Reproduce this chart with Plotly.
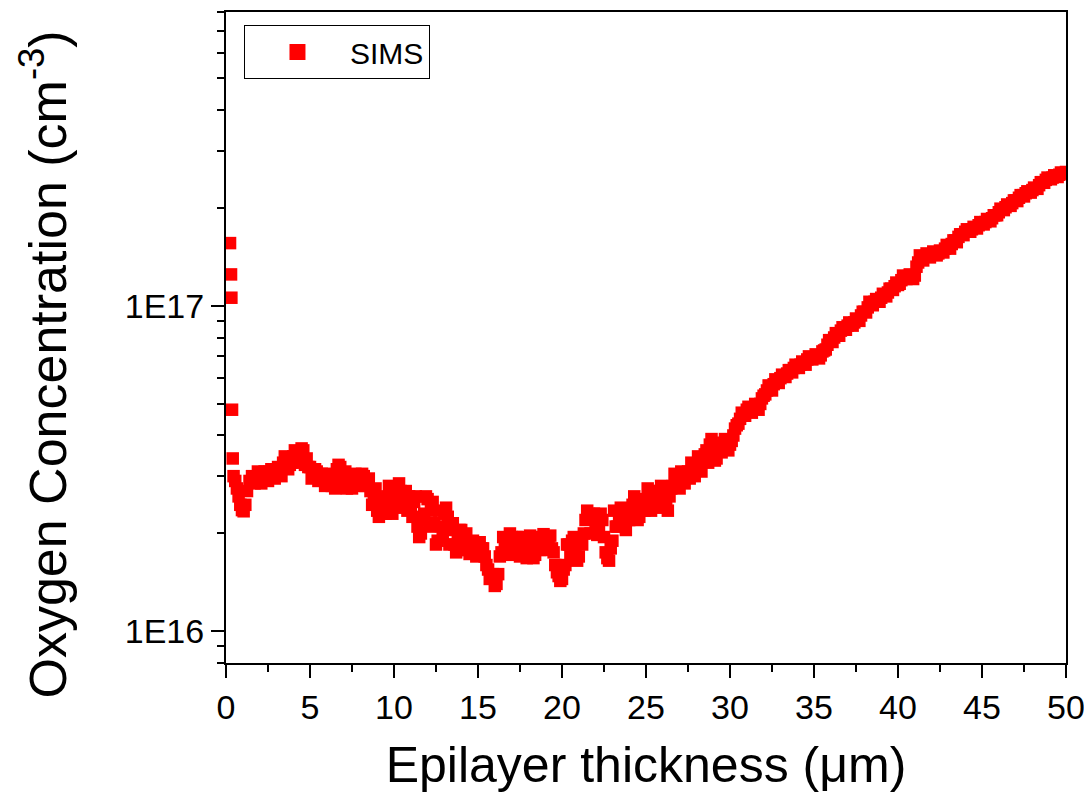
import plotly.graph_objects as go

# SIMS oxygen depth profile (depth in micrometres, concentration in units of 1E16 cm^-3)
# in two interleaved passes
depth_um_a = [
    0.24, 0.30, 0.32, 0.36, 0.40,
    0.45, 0.55, 0.65, 0.75, 0.85, 0.95, 1.05, 1.15, 1.25, 1.4, 1.55, 1.7, 1.85,
    2.0, 2.2, 2.4, 2.6, 2.8, 3.0, 3.2, 3.4, 3.6, 3.8, 4.0, 4.2, 4.4, 4.6, 4.8,
    5.0, 5.2, 5.4, 5.6, 5.8, 6.0, 6.2, 6.4, 6.6, 6.8, 7.0, 7.2, 7.4, 7.6, 7.8,
    8.0, 8.2, 8.4, 8.6, 8.8, 9.0, 9.2, 9.4, 9.6, 9.8, 10.0, 10.2, 10.4, 10.6, 10.8,
    11.0, 11.2, 11.4, 11.6, 11.8, 12.0, 12.2, 12.4, 12.6, 12.8, 13.0, 13.2, 13.4, 13.6, 13.8,
    14.0, 14.2, 14.4, 14.6, 14.8, 15.0, 15.2, 15.4, 15.6, 15.8, 16.0, 16.2, 16.4, 16.6, 16.8,
    17.0, 17.2, 17.4, 17.6, 17.8, 18.0, 18.2, 18.4, 18.6, 18.8, 19.0, 19.2, 19.4, 19.6, 19.8,
    20.0, 20.2, 20.4, 20.6, 20.8, 21.0, 21.2, 21.4, 21.6, 21.8, 22.0, 22.2, 22.4, 22.6, 22.8,
    23.0, 23.2, 23.4, 23.6, 23.8, 24.0, 24.2, 24.4, 24.6, 24.8, 25.0, 25.2, 25.4, 25.6, 25.8,
    26.0, 26.2, 26.4, 26.6, 26.8, 27.0, 27.2, 27.4, 27.6, 27.8, 28.0, 28.2, 28.4, 28.6, 28.8,
    29.0, 29.2, 29.4, 29.6, 29.8, 30.0, 30.2, 30.4, 30.6, 30.8, 31.0, 31.2, 31.4, 31.6, 31.8,
    32.0, 32.2, 32.4, 32.6, 32.8, 33.0, 33.2, 33.4, 33.6, 33.8, 34.0, 34.2, 34.4, 34.6, 34.8,
    35.0, 35.2, 35.4, 35.6, 35.8, 36.0, 36.2, 36.4, 36.6, 36.8, 37.0, 37.2, 37.4, 37.6, 37.8,
    38.0, 38.2, 38.4, 38.6, 38.8, 39.0, 39.2, 39.4, 39.6, 39.8, 40.0, 40.2, 40.4, 40.6, 40.8,
    41.0, 41.2, 41.4, 41.6, 41.8, 42.0, 42.2, 42.4, 42.6, 42.8, 43.0, 43.2, 43.4, 43.6, 43.8,
    44.0, 44.2, 44.4, 44.6, 44.8, 45.0, 45.2, 45.4, 45.6, 45.8, 46.0, 46.2, 46.4, 46.6, 46.8,
    47.0, 47.2, 47.4, 47.6, 47.8, 48.0, 48.2, 48.4, 48.6, 48.8, 49.0, 49.2, 49.4, 49.6, 49.8,
    50.0,
]

oxygen_e16_a = [
    15.6, 12.5, 10.6, 4.8, 3.4,
    3.0, 2.9, 2.75, 2.6, 2.45, 2.36, 2.34, 2.45, 2.7, 2.9, 3.0, 2.85, 2.9,
    3.0, 2.95, 3.05, 3.1, 3.0, 3.05, 3.1, 3.3, 3.4, 3.25, 3.45, 3.55, 3.5, 3.6, 3.4,
    3.2, 3.05, 3.1, 2.95, 3.0, 2.85, 2.95, 2.9, 3.15, 3.2, 3.0, 2.75, 2.85, 2.95, 3.0,
    2.9, 3.0, 2.85, 2.7, 2.6, 2.35, 2.3, 2.5, 2.6, 2.5, 2.45, 2.6, 2.7, 2.55, 2.35,
    2.4, 2.5, 2.1, 2.0, 2.3, 2.55, 2.35, 2.15, 1.9, 2.1, 2.3, 2.25, 2.05, 1.85, 1.95,
    2.05, 1.9, 1.78, 1.85, 1.82, 1.75, 1.8, 1.7, 1.55, 1.48, 1.38, 1.5, 1.75, 1.85, 1.9,
    1.95, 1.8, 1.88, 1.9, 1.75, 1.82, 1.9, 1.72, 1.8, 1.95, 1.85, 1.9, 1.8, 1.6, 1.48,
    1.45, 1.6, 1.85, 1.9, 1.75, 1.7, 1.85, 2.2, 2.3, 2.25, 2.15, 2.1, 2.2, 1.75, 1.65,
    1.9, 2.1, 2.25, 2.2, 2.05, 2.2, 2.45, 2.3, 2.25, 2.4, 2.5, 2.6, 2.45, 2.55, 2.7,
    2.65, 2.45, 2.6, 2.8, 2.9, 2.75, 2.95, 3.05, 2.95, 3.1, 3.25, 3.15, 3.35, 3.6, 3.75,
    3.55, 3.4, 3.7, 3.8, 3.65, 3.75, 4.0, 4.3, 4.5, 4.6, 4.8, 4.75, 4.85, 4.95, 5.0,
    5.3, 5.5, 5.55, 5.75, 5.9, 6.0, 6.1, 6.2, 6.35, 6.45, 6.55, 6.6, 6.7, 6.85, 6.9,
    6.95, 7.0, 7.05, 7.3, 7.6, 7.85, 8.0, 8.2, 8.4, 8.5, 8.7, 8.85, 8.9, 9.1, 9.35,
    9.6, 9.9, 10.2, 10.3, 10.4, 10.6, 10.8, 11.0, 11.3, 11.5, 11.6, 12.0, 12.3, 12.35, 12.3,
    12.4, 13.6, 14.1, 14.2, 14.3, 14.4, 14.5, 14.5, 14.7, 15.0, 15.2, 15.5, 15.9, 16.3, 16.6,
    16.9, 17.1, 17.2, 17.4, 17.7, 18.0, 18.1, 18.3, 18.6, 19.0, 19.4, 19.8, 20.1, 20.4, 20.7,
    21.1, 21.5, 21.9, 22.2, 22.4, 22.7, 23.0, 23.5, 24.0, 24.4, 24.6, 24.8, 25.1, 25.3, 25.6,
    25.8,
]

depth_um_b = [
    1.9, 2.1, 2.3, 2.5, 2.7, 2.9, 3.1, 3.3, 3.5, 3.7, 3.9, 4.1, 4.3, 4.5, 4.7, 4.9,
    5.1, 5.3, 5.5, 5.7, 5.9, 6.1, 6.3, 6.5, 6.7, 6.9, 7.1, 7.3, 7.5, 7.7, 7.9,
    8.1, 8.3, 8.5, 8.7, 8.9, 9.1, 9.3, 9.5, 9.7, 9.9, 10.1, 10.3, 10.5, 10.7, 10.9,
    11.1, 11.3, 11.5, 11.7, 11.9, 12.1, 12.3, 12.5, 12.7, 12.9, 13.1, 13.3, 13.5, 13.7, 13.9,
    14.1, 14.3, 14.5, 14.7, 14.9, 15.1, 15.3, 15.5, 15.7, 15.9, 16.1, 16.3, 16.5, 16.7, 16.9,
    17.1, 17.3, 17.5, 17.7, 17.9, 18.1, 18.3, 18.5, 18.7, 18.9, 19.1, 19.3, 19.5, 19.7, 19.9,
    20.1, 20.3, 20.5, 20.7, 20.9, 21.1, 21.3, 21.5, 21.7, 21.9, 22.1, 22.3, 22.5, 22.7, 22.9,
    23.1, 23.3, 23.5, 23.7, 23.9, 24.1, 24.3, 24.5, 24.7, 24.9, 25.1, 25.3, 25.5, 25.7, 25.9,
    26.1, 26.3, 26.5, 26.7, 26.9, 27.1, 27.3, 27.5, 27.7, 27.9, 28.1, 28.3, 28.5, 28.7, 28.9,
    29.1, 29.3, 29.5, 29.7, 29.9, 30.1, 30.3, 30.5, 30.7, 30.9, 31.1, 31.3, 31.5, 31.7, 31.9,
    32.1, 32.3, 32.5, 32.7, 32.9, 33.1, 33.3, 33.5, 33.7, 33.9, 34.1, 34.3, 34.5, 34.7, 34.9,
    35.1, 35.3, 35.5, 35.7, 35.9, 36.1, 36.3, 36.5, 36.7, 36.9, 37.1, 37.3, 37.5, 37.7, 37.9,
    38.1, 38.3, 38.5, 38.7, 38.9, 39.1, 39.3, 39.5, 39.7, 39.9, 40.1, 40.3, 40.5, 40.7, 40.9,
    41.1, 41.3, 41.5, 41.7, 41.9, 42.1, 42.3, 42.5, 42.7, 42.9, 43.1, 43.3, 43.5, 43.7, 43.9,
    44.1, 44.3, 44.5, 44.7, 44.9, 45.1, 45.3, 45.5, 45.7, 45.9, 46.1, 46.3, 46.5, 46.7, 46.9,
    47.1, 47.3, 47.5, 47.7, 47.9, 48.1, 48.3, 48.5, 48.7, 48.9, 49.1, 49.3, 49.5, 49.7, 49.9,
]

oxygen_e16_b = [
    3.1, 2.85, 3.1, 2.9, 3.15, 2.95, 3.2, 3.0, 3.45, 3.15, 3.3, 3.6, 3.3, 3.65, 3.25, 3.2,
    2.95, 3.15, 2.9, 3.05, 2.8, 3.05, 2.8, 2.75, 3.25, 2.8, 3.1, 2.95, 2.75, 3.05, 2.8,
    3.05, 2.8, 2.95, 2.45, 2.75, 2.25, 2.55, 2.3, 2.8, 2.3, 2.5, 2.85, 2.4, 2.7, 2.6,
    2.25, 2.6, 1.95, 2.2, 2.6, 2.1, 2.5, 1.85, 2.35, 1.95, 2.4, 1.85, 2.15, 1.75, 2.05,
    1.78, 2.0, 1.73, 1.9, 1.7, 1.88, 1.8, 1.6, 1.45, 1.5, 1.4, 1.7, 1.95, 1.72, 2.0,
    1.72, 1.95, 1.7, 1.95, 1.68, 1.97, 1.68, 1.92, 1.78, 1.99, 1.78, 1.97, 1.75, 1.52, 1.43,
    1.55, 1.85, 1.7, 1.95, 1.65, 1.92, 2.0, 2.35, 2.0, 2.3, 1.98, 2.3, 1.95, 1.68, 1.8,
    2.35, 2.1, 2.4, 2.12, 2.3, 2.25, 2.6, 2.2, 2.55, 2.35, 2.75, 2.35, 2.7, 2.4, 2.8,
    2.55, 2.35, 2.75, 3.05, 2.8, 3.1, 2.85, 3.1, 3.3, 3.0, 3.45, 3.1, 3.5, 3.3, 3.9,
    3.35, 3.6, 3.55, 3.9, 3.6, 3.85, 4.2, 4.35, 4.7, 4.6, 4.9, 4.7, 5.0, 4.8, 5.2,
    5.35, 5.7, 5.5, 5.95, 5.8, 6.15, 6.05, 6.35, 6.25, 6.6, 6.45, 6.75, 6.6, 7.0, 6.85,
    7.1, 6.9, 7.25, 7.35, 7.85, 7.75, 8.25, 8.1, 8.6, 8.45, 8.9, 8.7, 9.15, 9.0, 9.6,
    9.55, 10.3, 10.05, 10.5, 10.3, 10.9, 10.7, 11.3, 11.2, 11.8, 11.7, 12.4, 12.1, 12.5, 12.1,
    13.2, 14.3, 13.8, 14.5, 14.1, 14.7, 14.3, 14.8, 14.6, 15.4, 15.0, 15.9, 15.7, 16.6, 16.5,
    17.2, 16.9, 17.5, 17.3, 18.1, 17.8, 18.5, 18.2, 19.0, 19.0, 19.9, 19.7, 20.5, 20.3, 21.1,
    21.0, 21.9, 21.7, 22.5, 22.3, 23.1, 22.9, 24.0, 23.9, 24.8, 24.5, 25.2, 24.9, 25.7, 25.5,
]

series_name = "SIMS"
x_title = "Epilayer thickness (\u03bcm)"
y_title = "Oxygen Concentration (cm<sup>-3</sup>)"
y_tickvals = [1e16, 1e17]
y_ticktext = ["1E16", "1E17"]

# merge the two passes into one depth-ordered profile
pairs = sorted(zip(depth_um_a + depth_um_b, oxygen_e16_a + oxygen_e16_b))
depth_all = [p[0] for p in pairs]
oxygen_cm3 = [p[1] * 1e16 for p in pairs]

RED = "#ff0000"
FONT = "Arial, Liberation Sans, sans-serif"

fig = go.Figure()
fig.add_trace(go.Scatter(
    x=depth_all, y=oxygen_cm3, mode="markers", name=series_name,
    marker=dict(symbol="square", size=12.5, color=RED, line=dict(width=0)),
    showlegend=False,
))
# legend-only entry with the larger legend symbol
fig.add_trace(go.Scatter(
    x=[None], y=[None], mode="markers", name=series_name,
    marker=dict(symbol="square", size=16, color=RED, line=dict(width=0)),
    showlegend=True,
))

axis_common = dict(
    showline=True, linecolor="black", linewidth=2, mirror=True,
    showgrid=False, zeroline=False,
    ticks="outside", ticklen=13, tickwidth=2, tickcolor="black",
    tickfont=dict(family=FONT, size=34, color="black"),
)

fig.update_xaxes(
    **axis_common,
    range=[0, 50], tick0=0, dtick=5,
    minor=dict(ticks="outside", ticklen=7, tickwidth=2, tickcolor="black", dtick=2.5, tick0=0),
    title=dict(text=x_title, font=dict(family=FONT, size=50, color="black"), standoff=22),
)
fig.update_yaxes(
    **axis_common,
    type="log", range=[15.9031, 17.9031],
    tickvals=y_tickvals, ticktext=y_ticktext,
    minor=dict(ticks="outside", ticklen=7, tickwidth=2, tickcolor="black", dtick="D1"),
)

fig.update_layout(
    width=1084, height=793,
    margin=dict(l=218, r=26, t=2, b=138),
    paper_bgcolor="white", plot_bgcolor="white",
    font=dict(family=FONT, color="black"),
    legend=dict(
        x=0.0214, y=0.980, xanchor="left", yanchor="top",
        bordercolor="black", borderwidth=1, bgcolor="white",
        font=dict(family=FONT, size=30, color="black"),
        itemwidth=95,
    ),
    annotations=[dict(
        text=y_title, textangle=-90, showarrow=False,
        xref="paper", yref="paper", x=-0.217, y=0.458,
        xanchor="center", yanchor="middle",
        font=dict(family=FONT, size=52, color="black"),
    )],
)

fig.write_html("out.html")
